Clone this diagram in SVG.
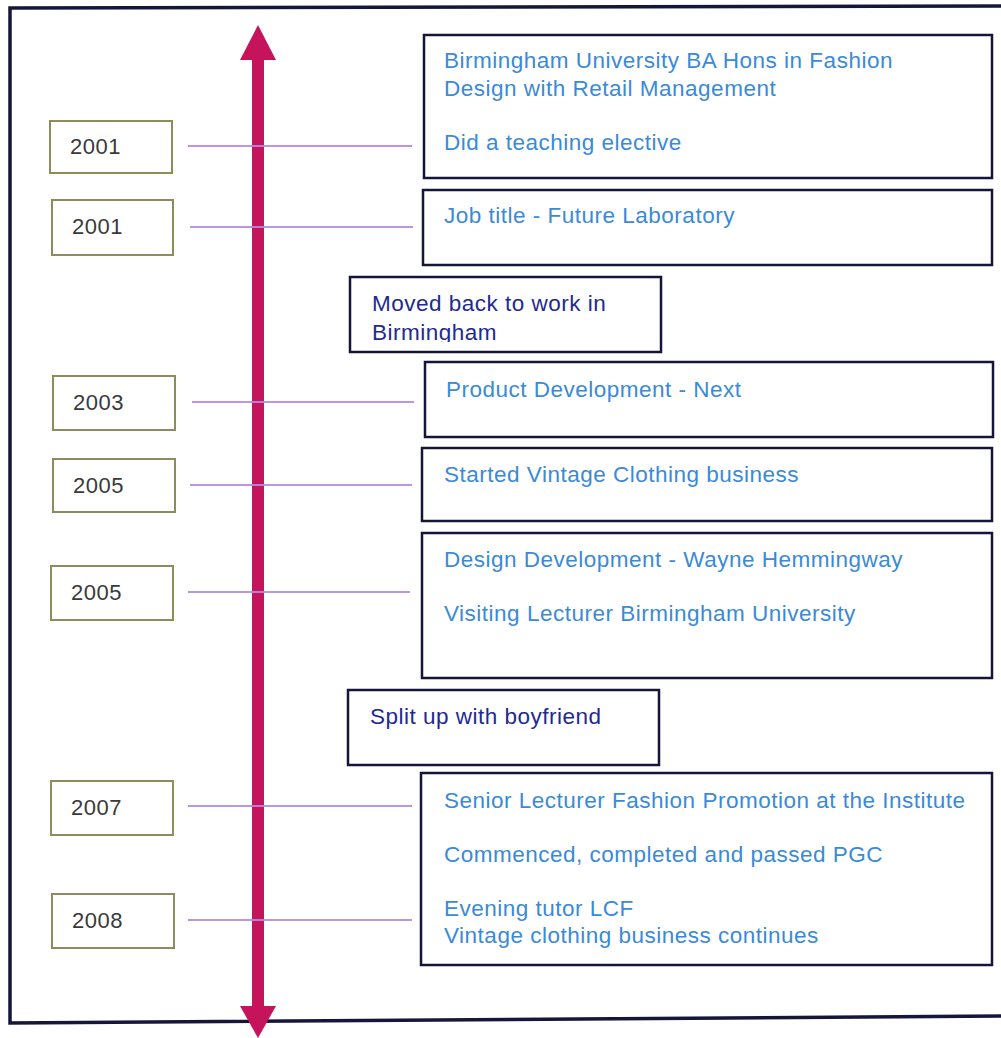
<svg xmlns="http://www.w3.org/2000/svg" width="1001" height="1038" viewBox="0 0 1001 1038">
  <style>
    .frame { fill: none; stroke: #16163a; stroke-width: 3.5; }
    .year rect { fill: #ffffff; stroke: #8c8c5c; stroke-width: 2; }
    .year text { font-family: "Liberation Sans", Arial, sans-serif; font-size: 22px; letter-spacing: 0.5px; fill: #3a3a3a; }
    .event rect { fill: #ffffff; stroke: #15153a; stroke-width: 2.5; }
    .event text { font-family: "Liberation Sans", Arial, sans-serif; font-size: 22.5px; letter-spacing: 0.5px; fill: #3a8ad8; }
    .note rect { fill: #ffffff; stroke: #15153a; stroke-width: 2.5; }
    .note text { font-family: "Liberation Sans", Arial, sans-serif; font-size: 22.5px; letter-spacing: 0.5px; fill: #1e2a92; }
    .link { stroke: #b48ce0; stroke-width: 2; opacity: 0.9; }
    .axis { fill: #c6145c; }
  </style>
  <defs>
    <clipPath id="moved-clip">
      <rect x="350" y="277" width="311" height="65"/>
    </clipPath>
  </defs>

  <rect x="0" y="0" width="1001" height="1038" fill="#ffffff"/>

  <!-- outer frame (right side runs off the page) -->
  <g id="frame">
    <path class="frame" d="M1001 6 L10 8 L10 1023 L1001 1016"/>
  </g>

  <!-- vertical time axis, double-headed -->
  <g id="timeline-axis">
    <rect class="axis" x="252" y="55" width="12" height="956"/>
    <polygon class="axis" points="240,60 258,25 276,60"/>
    <polygon class="axis" points="240,1006 258,1038 276,1006"/>
  </g>

  <!-- year-to-event connectors -->
  <g id="connectors">
    <line class="link" x1="188" y1="146" x2="412" y2="146"/>
    <line class="link" x1="190" y1="227" x2="413" y2="227"/>
    <line class="link" x1="192" y1="402" x2="414" y2="402"/>
    <line class="link" x1="190" y1="485" x2="412" y2="485"/>
    <line class="link" x1="188" y1="592" x2="410" y2="592"/>
    <line class="link" x1="188" y1="806" x2="412" y2="806"/>
    <line class="link" x1="188" y1="920" x2="412" y2="920"/>
  </g>

  <!-- year labels -->
  <g id="year-2001-a" class="year">
    <rect x="50" y="121" width="122" height="52"/>
    <text x="70" y="154">2001</text>
  </g>
  <g id="year-2001-b" class="year">
    <rect x="52" y="200" width="121" height="55"/>
    <text x="72" y="234">2001</text>
  </g>
  <g id="year-2003" class="year">
    <rect x="53" y="376" width="122" height="54"/>
    <text x="73" y="410">2003</text>
  </g>
  <g id="year-2005-a" class="year">
    <rect x="53" y="459" width="122" height="53"/>
    <text x="73" y="493">2005</text>
  </g>
  <g id="year-2005-b" class="year">
    <rect x="51" y="566" width="122" height="54"/>
    <text x="71" y="600">2005</text>
  </g>
  <g id="year-2007" class="year">
    <rect x="51" y="781" width="122" height="54"/>
    <text x="71" y="815">2007</text>
  </g>
  <g id="year-2008" class="year">
    <rect x="52" y="894" width="122" height="54"/>
    <text x="72" y="928">2008</text>
  </g>

  <!-- events -->
  <g id="event-degree" class="event">
    <rect x="424" y="35" width="568" height="143"/>
    <text x="444" y="68">Birmingham University BA Hons in Fashion</text>
    <text x="444" y="96">Design with Retail Management</text>
    <text x="444" y="150">Did a teaching elective</text>
  </g>
  <g id="event-future-lab" class="event">
    <rect x="423" y="190" width="569" height="75"/>
    <text x="444" y="223">Job title - Future Laboratory</text>
  </g>
  <g id="note-moved" class="note">
    <rect x="350" y="277" width="311" height="75"/>
    <g clip-path="url(#moved-clip)">
      <text x="372" y="311">Moved back to work in</text>
      <text x="372" y="340">Birmingham</text>
    </g>
  </g>
  <g id="event-next" class="event">
    <rect x="425" y="362" width="568" height="75"/>
    <text x="446" y="397">Product Development - Next</text>
  </g>
  <g id="event-vintage" class="event">
    <rect x="422" y="448" width="570" height="73"/>
    <text x="444" y="482">Started Vintage Clothing business</text>
  </g>
  <g id="event-hemmingway" class="event">
    <rect x="422" y="533" width="570" height="145"/>
    <text x="444" y="567">Design Development - Wayne Hemmingway</text>
    <text x="444" y="621">Visiting Lecturer Birmingham University</text>
  </g>
  <g id="note-split" class="note">
    <rect x="348" y="690" width="311" height="75"/>
    <text x="370" y="724">Split up with boyfriend</text>
  </g>
  <g id="event-institute" class="event">
    <rect x="421" y="773" width="571" height="192"/>
    <text x="444" y="808">Senior Lecturer Fashion Promotion at the Institute</text>
    <text x="444" y="862">Commenced, completed and passed PGC</text>
    <text x="444" y="916">Evening tutor LCF</text>
    <text x="444" y="943">Vintage clothing business continues</text>
  </g>
</svg>
